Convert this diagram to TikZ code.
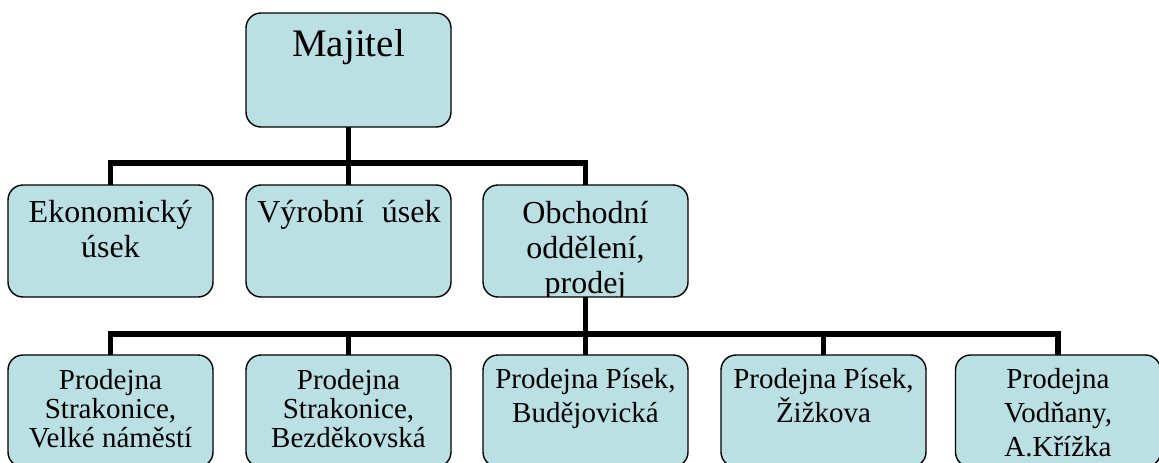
\documentclass[tikz,border=0pt]{standalone}
\usepackage{fontspec}
\setmainfont{Liberation Serif}
\definecolor{boxblue}{RGB}{186,224,227}

\begin{document}
\begin{tikzpicture}[x=1pt, y=-1pt,
  box/.style={draw=black, line width=1.4pt, fill=boxblue, rounded corners=15pt,
    minimum width=205pt, minimum height=112pt, inner sep=0pt, outer sep=0pt, anchor=north},
  lbl/.style={align=center, anchor=base, inner sep=0pt},
  headtxt/.style={lbl, font=\fontsize{39}{40}\selectfont},
  unittxt/.style={lbl, font=\fontsize{32}{35}\selectfont},
  shoptxt/.style={lbl, font=\fontsize{29}{29}\selectfont},
  tie/.style={line width=5.5pt}]
\clip (0,0) rectangle (1159,463);

% Draw the boxes
\node[box, minimum height=114pt] (maj) at (348.5,13) {};
\node[box] (eko) at (110.5,185) {};
\node[box] (vyr) at (348.5,185) {};
\node[box] (obch) at (585.5,185) {};
\node[box] (p1) at (110.5,355) {};
\node[box] (p2) at (348.5,355) {};
\node[box] (p3) at (585.5,355) {};
\node[box] (p4) at (823.5,355) {};
\node[box] (p5) at (1058,355) {};

% the connectors:
\coordinate (top) at (348.5,163);
\coordinate (mid) at (585.5,334);
\draw[tie] (maj.south) -- (top);
\draw[tie] (eko.north) -- (eko.north |- top) -- (obch.north |- top) -- (obch.north);
\draw[tie] (vyr.north) -- (vyr.north |- top);
\draw[tie] (obch.south) -- (mid);
\draw[tie] (p1.north) -- (p1.north |- mid) -- (p5.north |- mid) -- (p5.north);
\foreach \n in {p2,p3,p4}
  \draw[tie] (\n.north) -- (\n.north |- mid);

% Draw the texts (base = last line)
\node[headtxt] (majtxt) at (348.5,56) {Majitel};
\node[unittxt] (ekotxt) at (110.5,257) {Ekonomický\\úsek};
\node[unittxt] (vyrtxt) at (349,222) {Výrobní\hspace{18pt}úsek};
\begin{scope}
\clip ([yshift=0.7pt]obch.south west) rectangle (obch.north east);
\node[unittxt] (obchtxt) at (585.5,293) {Obchodní\\oddělení,\\prodej};
\end{scope}
\node[shoptxt] (p1txt) at (110.5,447) {Prodejna\\Strakonice,\\Velké náměstí};
\node[shoptxt] (p2txt) at (348.5,447) {Prodejna\\Strakonice,\\Bezděkovská};
\node[shoptxt, font=\fontsize{29}{34}\selectfont] (p3txt) at (585.5,422) {Prodejna Písek,\\Budějovická};
\node[shoptxt, font=\fontsize{29}{34}\selectfont] (p4txt) at (823.5,422) {Prodejna Písek,\\Žižkova};
\node[shoptxt, font=\fontsize{29}{34}\selectfont] (p5txt) at (1058,456) {Prodejna\\Vodňany,\\A.Křížka};
\end{tikzpicture}
\end{document}
